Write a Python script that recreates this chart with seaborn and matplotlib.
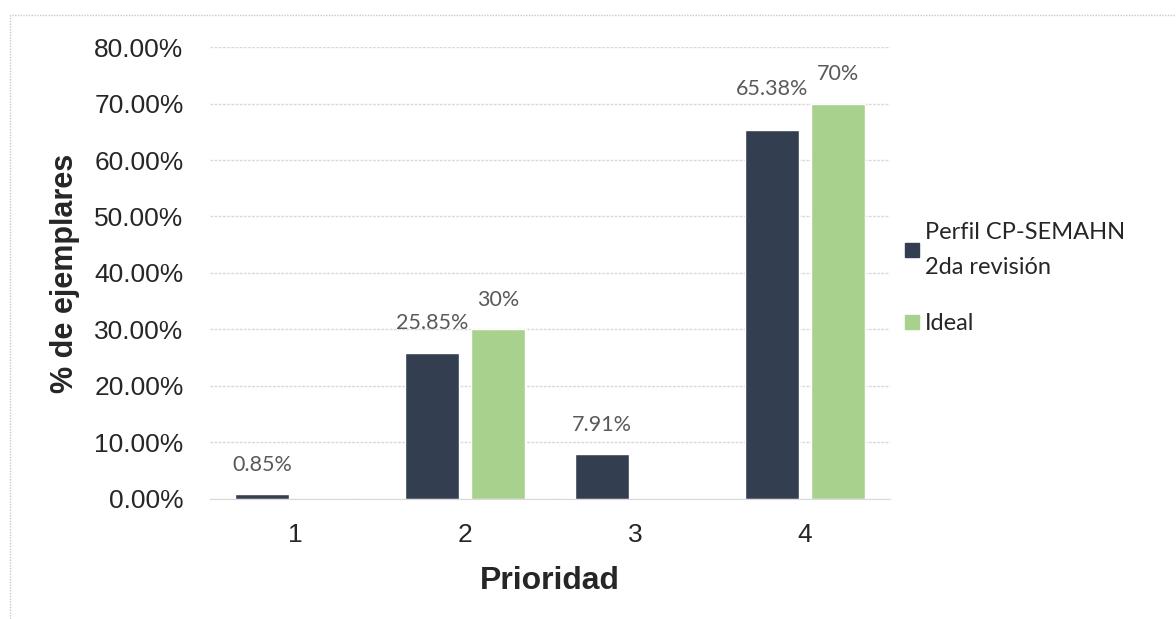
import numpy as np
import pandas as pd
import matplotlib
matplotlib.use("Agg")
import matplotlib.pyplot as plt
from matplotlib.patches import Rectangle
import seaborn as sns

categories = ["1", "2", "3", "4"]
perfil = [0.85, 25.85, 7.91, 65.38]
ideal = [np.nan, 30, np.nan, 70]
perfil_labels = ["0.85%", "25.85%", "7.91%", "65.38%"]
ideal_labels = ["", "30%", "", "70%"]
series_names = ["Perfil CP-SEMAHN\n2da revisión", "Ideal"]
yticks = [0, 10, 20, 30, 40, 50, 60, 70, 80]

dark = "#333F50"
green = "#A9D18E"

df = pd.DataFrame({
    "Prioridad": categories * 2,
    "valor": perfil + ideal,
    "serie": [series_names[0]] * 4 + [series_names[1]] * 4,
})

sns.set_style("white")
fig = plt.figure(figsize=(11.76, 6.19), dpi=100)
ax = fig.add_axes([210 / 1176, 0.194, 680 / 1176, 0.730])

sns.barplot(data=df, x="Prioridad", y="valor", hue="serie",
            palette=[dark, green], width=0.78, gap=0.18, ax=ax,
            legend=False, saturation=1)

ax.set_ylim(0, 80)
ax.set_xlim(-0.5, 3.5)
ax.set_yticks(yticks)
ax.set_yticklabels([f"{v:.2f}%" for v in yticks], fontsize=19,
                   family="Liberation Sans", color="#262626")
ax.set_xticklabels(categories, fontsize=19, family="Liberation Sans", color="#262626")
ax.tick_params(axis="y", length=0, pad=19)
ax.tick_params(axis="x", length=0, pad=17)
ax.grid(axis="y", color="#D9D9D9", linewidth=1, linestyle=(0, (2, 1)))
ax.set_axisbelow(True)
for s in ["top", "right", "left"]:
    ax.spines[s].set_visible(False)
ax.spines["bottom"].set_color("#D9D9D9")

ax.set_xlabel("Prioridad", fontsize=23, fontweight="bold", family="Liberation Sans",
              color="#262626", labelpad=14)
ax.set_ylabel("% de ejemplares", fontsize=22, fontweight="bold", family="Liberation Sans",
              color="#262626", labelpad=10)

# data labels: match bars to category by position
label_sets = [perfil_labels, ideal_labels]
for ci, cont in enumerate(ax.containers):
    for bar in cont:
        h = bar.get_height()
        if np.isnan(h):
            continue
        xc = bar.get_x() + bar.get_width() / 2
        idx = int(round(xc))
        lab = label_sets[ci][idx]
        if lab == "":
            continue
        dy = 22 if (ci == 0 and idx == 3) else 14
        ax.annotate(lab, (xc, h), xytext=(0, dy), textcoords="offset points",
                    ha="center", va="bottom", fontsize=15.5, family="Lato",
                    color="#595959")

# legend
handles = [plt.Line2D([], [], marker="s", linestyle="", markersize=10,
                      color=c) for c in [dark, green]]
leg = fig.legend(handles, series_names, loc="upper left",
                 bbox_to_anchor=(0.749, 0.675), frameon=False,
                 prop={"family": "Lato", "size": 17}, labelspacing=1.5,
                 handletextpad=0.15, handlelength=0.8)
for t in leg.get_texts():
    t.set_color("#262626")
    t.set_linespacing(1.8)

# outer dotted border
fig.patches.append(Rectangle((10 / 1176, -0.02), 1.2, 1 - 15 / 619 + 0.02,
                             transform=fig.transFigure, fill=False,
                             edgecolor="#C8C8C8", linewidth=1,
                             linestyle=(0, (1, 1))))

fig.savefig("out.png", dpi=100)
